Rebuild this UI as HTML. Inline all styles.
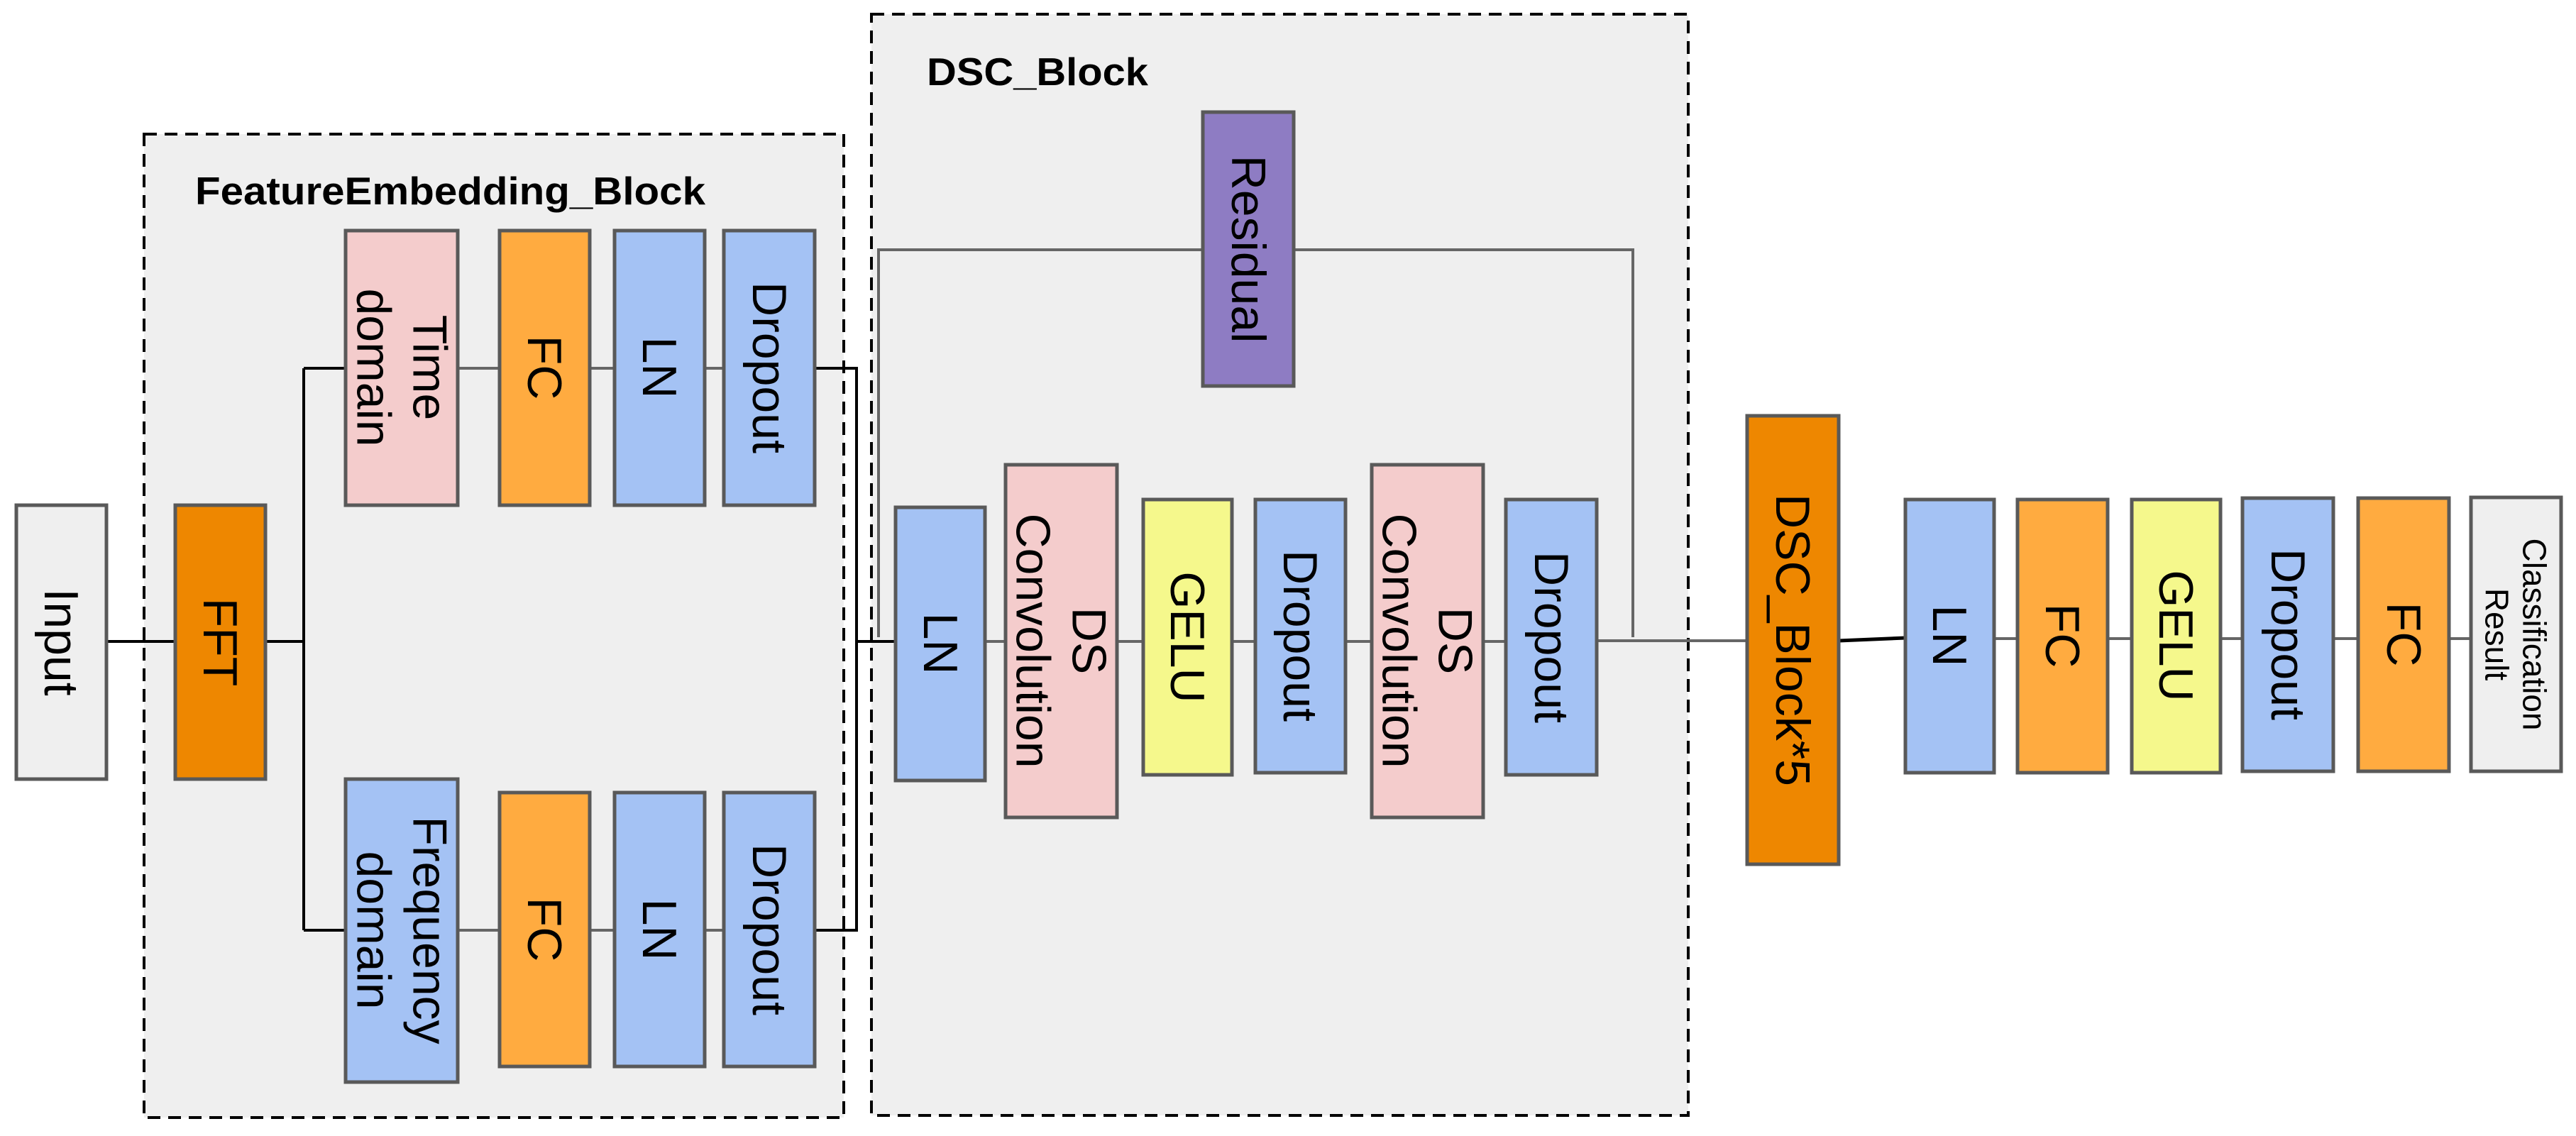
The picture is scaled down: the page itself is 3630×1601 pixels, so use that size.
<!DOCTYPE html>
<html><head><meta charset="utf-8"><style>html,body{margin:0;padding:0;background:#fff}svg{display:block}</style></head>
<body>
<svg width="3630" height="1601" viewBox="0 0 3630 1601" xmlns="http://www.w3.org/2000/svg" font-family="Liberation Sans, Arial, sans-serif">
<rect x="203" y="189" width="986" height="1386" fill="#efefef" stroke="#000" stroke-width="4" stroke-dasharray="18 11"/>
<rect x="1228" y="20" width="1151" height="1552" fill="#efefef" stroke="#000" stroke-width="4" stroke-dasharray="18 11"/>
<text x="275" y="288" font-size="55" font-weight="bold" textLength="719" lengthAdjust="spacingAndGlyphs">FeatureEmbedding_Block</text>
<text x="1306" y="120" font-size="55" font-weight="bold" textLength="312" lengthAdjust="spacingAndGlyphs">DSC_Block</text>
<g fill="none" stroke-width="4">
<path d="M150 904H247M374 904H428M428 519V1311M428 519H487M428 1311H487M1148 519H1207V1311H1148M1207 904H1262" stroke="#000"/>
<path d="M645 519H704M831 519H866M993 519H1020M645 1311H704M831 1311H866M993 1311H1020" stroke="#666"/>
<path d="M1238 898V352H2301V898M1388 904H1417M1574 904H1611M1736 904H1769M1896 904H1933M2090 904H2122M2250 903H2462M2810 900H2843M2970 900H3004M3129 900H3160M3288 900H3323M3451 900H3482" stroke="#666"/>
<path d="M2591 903L2685 899" stroke="#000" stroke-width="5"/>
</g>
<g stroke="#595959" stroke-width="5">
<rect x="23" y="712" width="127" height="386" fill="#efefef"/>
<rect x="247" y="712" width="127" height="386" fill="#ee8700"/>
<rect x="487" y="325" width="158" height="387" fill="#f4cccc"/>
<rect x="704" y="325" width="127" height="387" fill="#ffab40"/>
<rect x="866" y="325" width="127" height="387" fill="#a4c2f4"/>
<rect x="1020" y="325" width="128" height="387" fill="#a4c2f4"/>
<rect x="487" y="1098" width="158" height="427" fill="#a4c2f4"/>
<rect x="704" y="1117" width="127" height="386" fill="#ffab40"/>
<rect x="866" y="1117" width="127" height="386" fill="#a4c2f4"/>
<rect x="1020" y="1117" width="128" height="386" fill="#a4c2f4"/>
<rect x="1695" y="158" width="128" height="386" fill="#8e7cc3"/>
<rect x="1262" y="715" width="126" height="385" fill="#a4c2f4"/>
<rect x="1417" y="655" width="157" height="497" fill="#f4cccc"/>
<rect x="1611" y="704" width="125" height="388" fill="#f5f88c"/>
<rect x="1769" y="704" width="127" height="385" fill="#a4c2f4"/>
<rect x="1933" y="655" width="157" height="497" fill="#f4cccc"/>
<rect x="2122" y="704" width="128" height="388" fill="#a4c2f4"/>
<rect x="2462" y="586" width="129" height="632" fill="#ee8700"/>
<rect x="2685" y="704" width="125" height="385" fill="#a4c2f4"/>
<rect x="2843" y="704" width="127" height="385" fill="#ffab40"/>
<rect x="3004" y="704" width="125" height="385" fill="#f5f88c"/>
<rect x="3160" y="702" width="128" height="385" fill="#a4c2f4"/>
<rect x="3323" y="702" width="128" height="385" fill="#ffab40"/>
<rect x="3482" y="701" width="127" height="386" fill="#efefef"/>
</g>
<g font-size="68" fill="#000" text-anchor="middle" dominant-baseline="central">
<text transform="translate(86,905) rotate(90)">Input</text>
<text transform="translate(310,905) rotate(90)">FFT</text>
<text transform="translate(566,518) rotate(90)"><tspan x="0" dy="-0.58em">Time</tspan><tspan x="0" dy="1.16em">domain</tspan></text>
<text transform="translate(767,518) rotate(90)">FC</text>
<text transform="translate(929,518) rotate(90)">LN</text>
<text transform="translate(1084,518) rotate(90)">Dropout</text>
<text transform="translate(566,1311) rotate(90)"><tspan x="0" dy="-0.58em">Frequency</tspan><tspan x="0" dy="1.16em">domain</tspan></text>
<text transform="translate(767,1310) rotate(90)">FC</text>
<text transform="translate(929,1310) rotate(90)">LN</text>
<text transform="translate(1084,1310) rotate(90)">Dropout</text>
<text transform="translate(1759,351) rotate(90)">Residual</text>
<text transform="translate(1325,907) rotate(90)">LN</text>
<text transform="translate(1495,903) rotate(90)"><tspan x="0" dy="-0.58em">DS</tspan><tspan x="0" dy="1.16em">Convolution</tspan></text>
<text transform="translate(1673,898) rotate(90)">GELU</text>
<text transform="translate(1832,896) rotate(90)">Dropout</text>
<text transform="translate(2011,903) rotate(90)"><tspan x="0" dy="-0.58em">DS</tspan><tspan x="0" dy="1.16em">Convolution</tspan></text>
<text transform="translate(2186,898) rotate(90)">Dropout</text>
<text transform="translate(2526,902) rotate(90)">DSC_Block*5</text>
<text transform="translate(2747,896) rotate(90)">LN</text>
<text transform="translate(2906,896) rotate(90)">FC</text>
<text transform="translate(3066,896) rotate(90)">GELU</text>
<text transform="translate(3224,894) rotate(90)">Dropout</text>
<text transform="translate(3387,894) rotate(90)">FC</text>
<text transform="translate(3545,894) rotate(90)" font-size="46"><tspan x="0" dy="-0.58em">Classification</tspan><tspan x="0" dy="1.16em">Result</tspan></text>
</g>
</svg>
</body></html>
